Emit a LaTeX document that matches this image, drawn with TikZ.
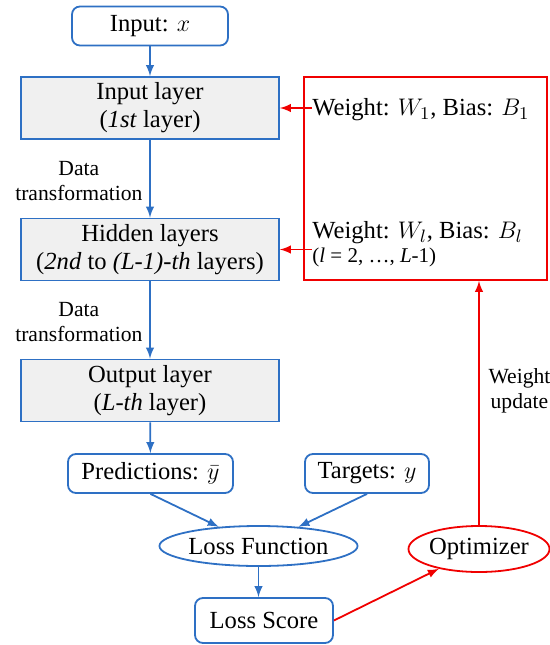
\documentclass[tikz,border=0pt]{standalone}
\usepackage{fontspec}
\IfFontExistsTF{LiberationSerif-Regular.ttf}{%
\setmainfont{LiberationSerif-Regular.ttf}[ItalicFont=LiberationSerif-Italic.ttf,BoldFont=LiberationSerif-Bold.ttf]}{%
\setmainfont{Liberation Serif}}
\usepackage{xcolor}
\usepackage{amsmath}
\usetikzlibrary{positioning,arrows,shapes,calc}
\definecolor{nnblue}{RGB}{46,112,196}
\definecolor{nnred}{RGB}{240,0,0}
\definecolor{nngray}{RGB}{240,240,240}
\newcommand{\mainsize}{\fontsize{12.3}{14}\selectfont}
\newcommand{\labsize}{\fontsize{10.8}{12.6}\selectfont}
\tikzset{>=latex}
\tikzset{rbox/.style={draw=nnblue,line width=0.9pt,rounded corners=4pt,inner sep=0pt,minimum height=19.5pt,font=\mainsize}}
\tikzset{layerbox/.style={draw=nnblue,fill=nngray,line width=0.9pt,minimum width=129pt,minimum height=31pt,inner sep=0pt,align=center,font=\mainsize}}
\tikzset{lossell/.style={ellipse,draw=nnblue,line width=0.9pt,inner sep=0pt,font=\mainsize}}
\tikzset{bluearrow/.style={->,draw=nnblue,line width=0.9pt}}
\tikzset{redarrow/.style={->,draw=nnred,line width=0.9pt}}
\tikzset{lbl/.style={align=center,font=\labsize,text=black}}

\begin{document}
\begin{tikzpicture}[x=0.5pt,y=-0.5pt]
\useasboundingbox (0,0) rectangle (550,645);
% main chain
\node[rbox,minimum width=78pt] (inp) at (150,26) {Input: $x$};
\node[layerbox] (inlayer) at (150,108) {Input layer\\(\textit{1st} layer)};
\node[layerbox] (hidden) at (150,249.5) {Hidden layers\\(\textit{2nd} to \textit{(L-1)-th} layers)};
\node[layerbox] (outlayer) at (150,390.5) {Output layer\\(\textit{L-th} layer)};
\node[rbox,minimum width=82.5pt] (pred) at (150.5,473.5) {Predictions: $\bar{y}$};
\node[rbox,minimum width=62pt] (targ) at (367,473.5) {Targets: $y$};
\node[lossell,minimum width=96.5pt,minimum height=20pt] (lossfn) at (258.5,546) {Loss Function};
\node[rbox,minimum width=69pt,minimum height=22.5pt] (score) at (264,620.5) {Loss Score};
% parameters and optimizer
\node[lossell,draw=nnred,minimum width=70pt,minimum height=23pt] (optim) at (479,549) {Optimizer};
\node[draw=nnred,line width=0.9pt,minimum width=121.5pt,minimum height=101.5pt,inner sep=0pt] (params) at (425.5,178.5) {};
\node[anchor=west,inner sep=0pt,font=\mainsize] (wone) at (312,110) {Weight: $W_1$, Bias: $B_1$};
\node[anchor=west,inner sep=0pt,align=left,font=\mainsize] (wl) at (312,244) {Weight: $W_l$, Bias: $B_l$\\[-2pt]{\fontsize{10.5}{12}\selectfont(\textit{l} = 2, \ldots, \textit{L}-1)}};

\draw[bluearrow] (inp) -- (inlayer);
\draw[bluearrow] (inlayer) -- node[lbl,left,yshift=-1pt]{Data\\transformation} (hidden);
\draw[bluearrow] (hidden) -- node[lbl,left,yshift=-1pt]{Data\\transformation} (outlayer);
\draw[bluearrow] (outlayer) -- (pred);
\draw[bluearrow] (pred.south) -- (lossfn);
\draw[bluearrow] (targ.south) -- (lossfn);
\draw[bluearrow] (lossfn.south) -- (lossfn.south |- score.north);
\draw[redarrow] (score.east) -- (optim);
\draw[redarrow] (optim.north) -- node[lbl,right,pos=0.55,xshift=1pt]{Weight\\update} (optim.north |- params.south);
\draw[redarrow] (wone.west |- inlayer.east) -- (inlayer.east);
\draw[redarrow] (wl.west |- hidden.east) -- (hidden.east);
\end{tikzpicture}
\end{document}
